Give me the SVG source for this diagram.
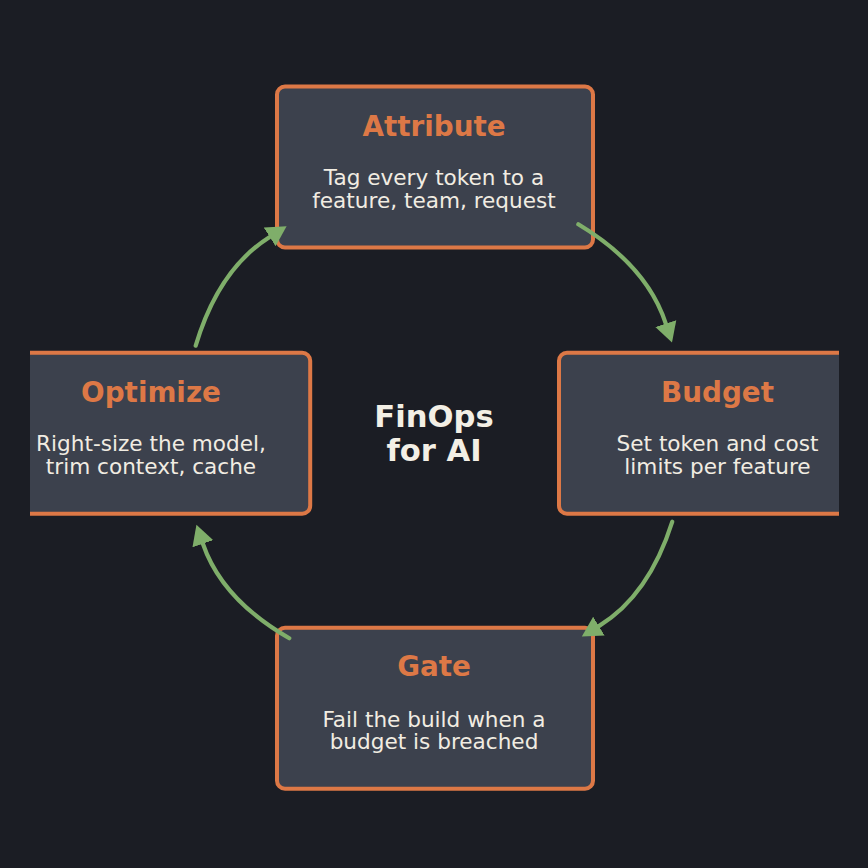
<svg xmlns="http://www.w3.org/2000/svg" width="868" height="868" viewBox="0 0 868 868">
  <style>
    .box { fill: #3c414d; stroke: #dd7846; stroke-width: 4; }
    .title { font-family: "DejaVu Sans", sans-serif; font-weight: bold; font-size: 27.8px; fill: #dd7846; text-anchor: middle; }
    .body { font-family: "DejaVu Sans", sans-serif; font-size: 21.6px; fill: #f1ece2; text-anchor: middle; }
    .center { font-family: "DejaVu Sans", sans-serif; font-weight: bold; font-size: 30.6px; fill: #f3efe5; text-anchor: middle; }
    .conn { fill: none; stroke: #7fae6a; stroke-width: 4.2; stroke-linecap: round; marker-end: url(#head); }
  </style>
  <defs>
    <clipPath id="axes">
      <rect x="30" y="30" width="809" height="809"/>
    </clipPath>
    <marker id="head" markerUnits="userSpaceOnUse" viewBox="0 -12 21 24" refX="0" refY="0" markerWidth="21" markerHeight="24" orient="auto">
      <path d="M0,-11 L20,0 L0,11 Z" fill="#7fae6a"/>
    </marker>
  </defs>
  <rect x="0" y="0" width="868" height="868" fill="#1b1d24"/>
  <g clip-path="url(#axes)">
    <g id="attribute">
      <rect class="box" x="277" y="86.5" width="316" height="161" rx="8"/>
      <text class="title" x="434" y="135.5">Attribute</text>
      <text class="body" x="434" y="184.5">Tag every token to a</text>
      <text class="body" x="434" y="208">feature, team, request</text>
    </g>
    <g id="budget">
      <rect class="box" x="559" y="352.8" width="316" height="161" rx="8"/>
      <text class="title" x="717.5" y="401.5">Budget</text>
      <text class="body" x="717.5" y="450.5">Set token and cost</text>
      <text class="body" x="717.5" y="473.5">limits per feature</text>
    </g>
    <g id="gate">
      <rect class="box" x="277" y="627.8" width="316" height="161" rx="8"/>
      <text class="title" x="434" y="676.3">Gate</text>
      <text class="body" x="434" y="726.5">Fail the build when a</text>
      <text class="body" x="434" y="749">budget is breached</text>
    </g>
    <g id="optimize">
      <rect class="box" x="-5.8" y="352.8" width="316" height="161" rx="8"/>
      <text class="title" x="151" y="401.5">Optimize</text>
      <text class="body" x="151" y="450.5">Right-size the model,</text>
      <text class="body" x="151" y="473.5">trim context, cache</text>
    </g>
    <g id="center">
      <text class="center" x="434" y="426.5">FinOps</text>
      <text class="center" x="434" y="460.5">for AI</text>
    </g>
    <g id="connectors">
      <path class="conn" d="M578.3,224.3 Q646.9,265.6 665.8,323.6"/>
      <path class="conn" d="M672.3,521.7 Q648.9,595.6 598.9,626.1"/>
      <path class="conn" d="M289.3,638.3 Q221.9,599.3 202.9,543.7"/>
      <path class="conn" d="M195.7,345.7 Q218.4,269.4 269.7,236.9"/>
    </g>
  </g>
</svg>
